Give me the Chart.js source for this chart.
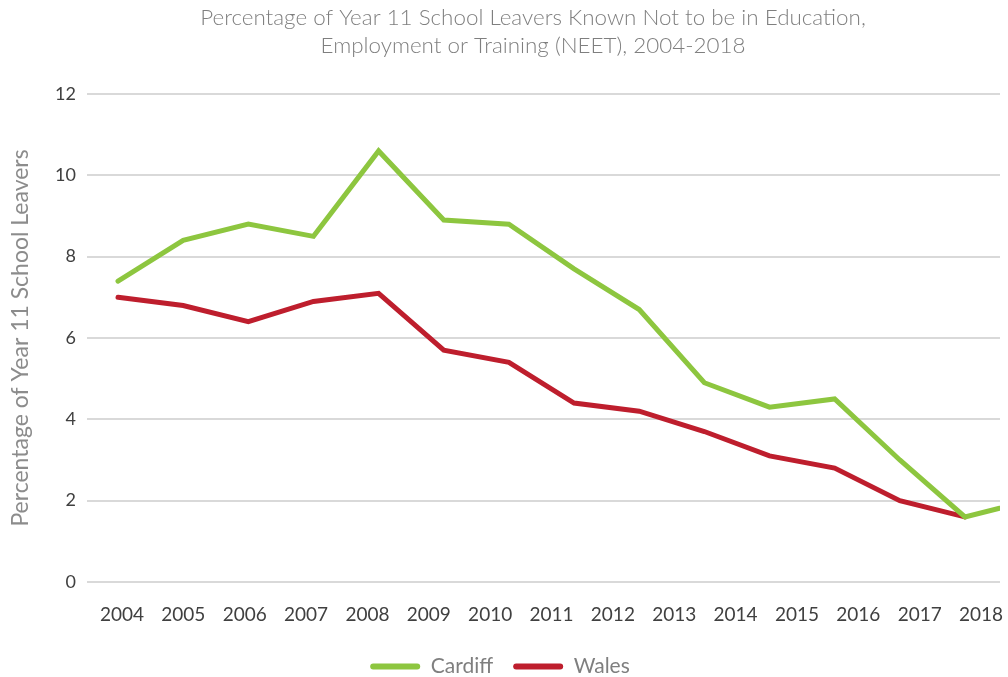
<!DOCTYPE html>
<html><head><meta charset="utf-8">
<script src="https://cdn.jsdelivr.net/npm/chart.js@4/dist/chart.umd.min.js"></script>
<style>html,body{margin:0;padding:0;background:#fff}#wrap{width:1008px;height:677px;position:relative}</style>
</head><body><div id="wrap"><canvas id="c"></canvas></div>
<script>
const years = ['2004','2005','2006','2007','2008','2009','2010','2011','2012','2013','2014','2015','2016','2017','2018'];
const cardiff = [7.4, 8.4, 8.8, 8.5, 10.6, 8.9, 8.8, 7.7, 6.7, 4.9, 4.3, 4.5, 3.0, 1.6, 2.0];
const wales = [7.0, 6.8, 6.4, 6.9, 7.1, 5.7, 5.4, 4.4, 4.2, 3.7, 3.1, 2.8, 2.0, 1.6, null];
const yTicks = [0, 2, 4, 6, 8, 10, 12];
const titleLines = ['Percentage of Year 11 School Leavers Known Not to be in Education,', 'Employment or Training (NEET), 2004-2018'];
const yTitle = 'Percentage of Year 11 School Leavers';

const FONT = 'Lato, "Open Sans", sans-serif';
const toPts = arr => arr.map((v, i) => ({x: i, y: v}));

const titlePlugin = {
  id: 'twoLineTitle',
  afterDraw(chart) {
    const ctx = chart.ctx;
    ctx.save();
    ctx.font = '300 22.4px ' + FONT;
    ctx.fillStyle = '#7f7f7f';
    ctx.textAlign = 'center';
    ctx.textBaseline = 'alphabetic';
    titleLines.forEach((t, i) => ctx.fillText(t, 533, 25 + i * 28));
    ctx.restore();
  }
};

new Chart(document.getElementById('c'), {
  type: 'line',
  data: {
    datasets: [
      {label: 'Cardiff', data: toPts(cardiff), borderColor: '#8dc63f', backgroundColor: '#8dc63f', borderWidth: 5, pointRadius: 0, tension: 0, xAxisID: 'x2', yAxisID: 'y', clip: 0, borderCapStyle: 'round', borderJoinStyle: 'miter'},
      {label: 'Wales', data: toPts(wales), borderColor: '#be1e2d', backgroundColor: '#be1e2d', borderWidth: 5, pointRadius: 0, tension: 0, xAxisID: 'x2', yAxisID: 'y', clip: 0, borderCapStyle: 'round', borderJoinStyle: 'miter', spanGaps: false}
    ]
  },
  plugins: [titlePlugin],
  options: {
    responsive: true,
    maintainAspectRatio: false,
    animation: false,
    layout: {padding: {left: 0, right: 8, top: 94, bottom: -10}},
    plugins: {
      title: {display: false},
      legend: {
        position: 'bottom',
        labels: {
          color: '#7f7f7f', font: {family: FONT, size: 21}, boxWidth: 50, boxHeight: 6, padding: 20,
          useBorderRadius: true, borderRadius: 3,
          generateLabels: chart => Chart.defaults.plugins.legend.labels.generateLabels(chart).map(l => Object.assign(l, {lineWidth: 0}))
        }
      },
      tooltip: {enabled: false}
    },
    scales: {
      x: {
        type: 'linear', min: -0.570, max: 14.309,
        grid: {display: false, drawTicks: false}, border: {display: false},
        afterBuildTicks: s => { s.ticks = years.map((_, i) => ({value: i})); },
        afterFit: s => { s.height = 54; s.paddingLeft = 0; s.paddingRight = 0; },
        ticks: {callback: v => years[v], autoSkip: false, maxRotation: 0, padding: 21, color: '#404040', font: {family: FONT, size: 19}}
      },
      x2: {type: 'linear', display: false, min: -0.476, max: 13.538},
      y: {
        min: 0, max: 12,
        afterBuildTicks: s => { s.ticks = yTicks.map(v => ({value: v})); },
        afterFit: s => { s.width = 87; s.paddingTop = 0; s.paddingBottom = 0; },
        grid: {color: '#d9d9d9', lineWidth: 2, drawTicks: false}, border: {display: false},
        ticks: {padding: 11, color: '#404040', font: {family: FONT, size: 18}},
        title: {display: true, text: yTitle, color: '#8c8c8c', font: {family: FONT, size: 23}, padding: {top: 7, bottom: 0}}
      }
    }
  }
});
</script></body></html>
